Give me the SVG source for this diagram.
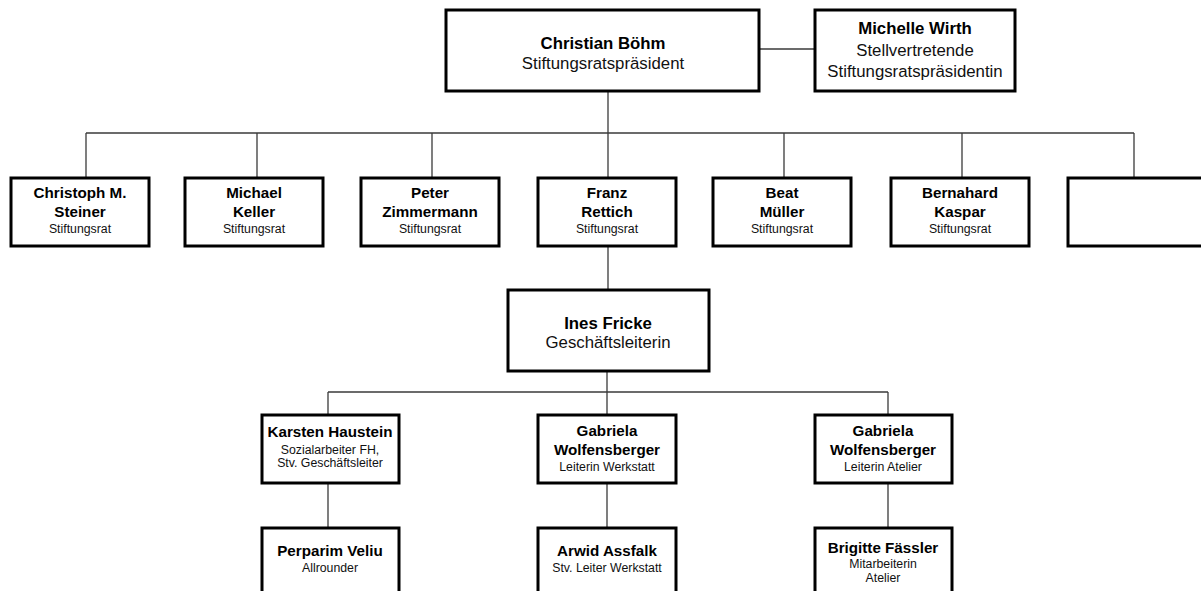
<svg xmlns="http://www.w3.org/2000/svg" width="1201" height="591" viewBox="0 0 1201 591">
<style>
.box{fill:#fff;stroke:#000;stroke-width:3}
.con{fill:none;stroke:#3a3a3a;stroke-width:1.3}
text{font-family:"Liberation Sans",Arial,sans-serif;text-anchor:middle;fill:#000}
.b{font-weight:bold;font-size:15.2px}
.s{font-size:12.3px;fill:#111}
.bl{font-weight:bold;font-size:16.8px}
.m{font-size:16.8px;fill:#111}
</style>
<rect width="1201" height="591" fill="#fff"/>
<g id="connectors" class="con">
<line x1="759" y1="49" x2="815" y2="49"/>
<line x1="608" y1="91" x2="608" y2="133"/>
<line x1="86" y1="133" x2="1134" y2="133"/>
<line x1="86" y1="133" x2="86" y2="177"/>
<line x1="257" y1="133" x2="257" y2="177"/>
<line x1="432" y1="133" x2="432" y2="177"/>
<line x1="608" y1="133" x2="608" y2="177"/>
<line x1="784" y1="133" x2="784" y2="177"/>
<line x1="962" y1="133" x2="962" y2="177"/>
<line x1="1134" y1="133" x2="1134" y2="177"/>
<line x1="608" y1="246" x2="608" y2="290"/>
<line x1="607" y1="371" x2="607" y2="392"/>
<line x1="328" y1="392" x2="888" y2="392"/>
<line x1="328" y1="392" x2="328" y2="415"/>
<line x1="607" y1="392" x2="607" y2="415"/>
<line x1="888" y1="392" x2="888" y2="415"/>
<line x1="328" y1="483" x2="328" y2="527"/>
<line x1="607" y1="483" x2="607" y2="527"/>
<line x1="888" y1="483" x2="888" y2="527"/>
</g>
<g id="n-boehm"><rect class="box" x="446" y="10" width="313" height="81"/>
<text class="bl" x="603" y="49">Christian Böhm</text><text class="m" x="603" y="69">Stiftungsratspräsident</text></g>
<g id="n-wirth"><rect class="box" x="815" y="10" width="200" height="81"/>
<text class="bl" x="915" y="34">Michelle Wirth</text><text class="m" x="915" y="56">Stellvertretende</text><text class="m" x="915" y="77">Stiftungsratspräsidentin</text></g>
<g id="n-steiner"><rect class="box" x="11" y="178" width="138" height="68"/>
<text class="b" x="80" y="198">Christoph M.</text><text class="b" x="80" y="217">Steiner</text><text class="s" x="80" y="233">Stiftungsrat</text></g>
<g id="n-keller"><rect class="box" x="185" y="178" width="138" height="68"/>
<text class="b" x="254" y="198">Michael</text><text class="b" x="254" y="217">Keller</text><text class="s" x="254" y="233">Stiftungsrat</text></g>
<g id="n-zimmermann"><rect class="box" x="361" y="178" width="138" height="68"/>
<text class="b" x="430" y="198">Peter</text><text class="b" x="430" y="217">Zimmermann</text><text class="s" x="430" y="233">Stiftungsrat</text></g>
<g id="n-rettich"><rect class="box" x="538" y="178" width="138" height="68"/>
<text class="b" x="607" y="198">Franz</text><text class="b" x="607" y="217">Rettich</text><text class="s" x="607" y="233">Stiftungsrat</text></g>
<g id="n-mueller"><rect class="box" x="713" y="178" width="138" height="68"/>
<text class="b" x="782" y="198">Beat</text><text class="b" x="782" y="217">Müller</text><text class="s" x="782" y="233">Stiftungsrat</text></g>
<g id="n-kaspar"><rect class="box" x="891" y="178" width="138" height="68"/>
<text class="b" x="960" y="198">Bernahard</text><text class="b" x="960" y="217">Kaspar</text><text class="s" x="960" y="233">Stiftungsrat</text></g>
<g id="n-empty"><rect class="box" x="1068" y="178" width="140" height="68"/></g>
<g id="n-fricke"><rect class="box" x="508" y="290" width="201" height="81"/>
<text class="bl" x="608" y="329">Ines Fricke</text><text class="m" x="608" y="348">Geschäftsleiterin</text></g>
<g id="n-haustein"><rect class="box" x="262" y="415" width="137" height="68"/>
<text class="b" x="330" y="437">Karsten Haustein</text><text class="s" x="330" y="454">Sozialarbeiter FH,</text><text class="s" x="330" y="467">Stv. Geschäftsleiter</text></g>
<g id="n-wolf1"><rect class="box" x="538" y="415" width="138" height="68"/>
<text class="b" x="607" y="436">Gabriela</text><text class="b" x="607" y="455">Wolfensberger</text><text class="s" x="607" y="471">Leiterin Werkstatt</text></g>
<g id="n-wolf2"><rect class="box" x="815" y="415" width="137" height="68"/>
<text class="b" x="883" y="436">Gabriela</text><text class="b" x="883" y="455">Wolfensberger</text><text class="s" x="883" y="471">Leiterin Atelier</text></g>
<g id="n-veliu"><rect class="box" x="262" y="528" width="137" height="70"/>
<text class="b" x="330" y="556">Perparim Veliu</text><text class="s" x="330" y="572">Allrounder</text></g>
<g id="n-assfalk"><rect class="box" x="538" y="528" width="138" height="70"/>
<text class="b" x="607" y="556">Arwid Assfalk</text><text class="s" x="607" y="572">Stv. Leiter Werkstatt</text></g>
<g id="n-faessler"><rect class="box" x="815" y="528" width="137" height="70"/>
<text class="b" x="883" y="553">Brigitte Fässler</text><text class="s" x="883" y="568">Mitarbeiterin</text><text class="s" x="883" y="582">Atelier</text></g>
</svg>
